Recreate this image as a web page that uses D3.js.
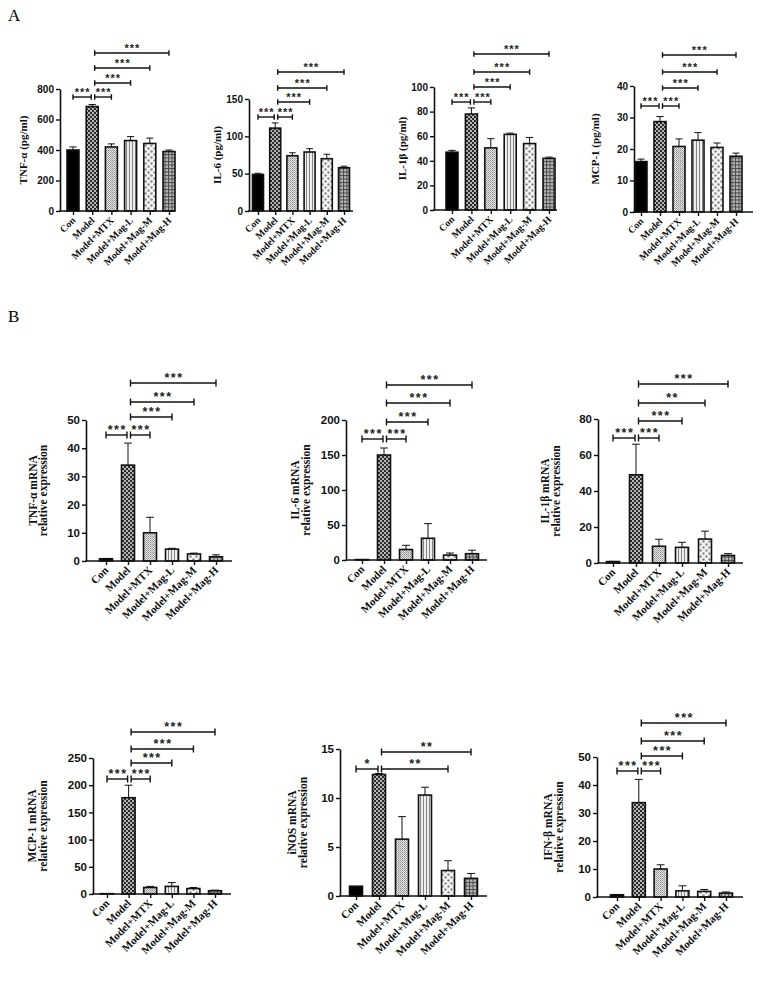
<!DOCTYPE html>
<html><head><meta charset="utf-8">
<script src="https://cdn.jsdelivr.net/npm/d3@7"></script>
<style>body{margin:0;background:#fff}</style>
</head><body>
<svg id="c" width="779" height="990" xmlns="http://www.w3.org/2000/svg"></svg>
<script>
// ---------- DATA ----------
const categories = ["Con", "Model", "Model+MTX", "Model+Mag-L", "Model+Mag-M", "Model+Mag-H"];

// Panel A (protein, pg/ml): means and upper SD
const tnfProtein = [400, 685, 420, 462, 443, 390];
const tnfProteinErr = [20, 13, 20, 26, 35, 10];
const il6Protein = [49, 111, 74, 79, 70, 58];
const il6ProteinErr = [1.5, 7, 4, 4.5, 6, 2];
const il1bProtein = [47, 78, 50.5, 61.5, 54, 42];
const il1bProteinErr = [1.5, 5, 7.5, 1, 5, 1];
const mcp1Protein = [16, 28.7, 20.8, 22.8, 20.5, 17.7];
const mcp1ProteinErr = [0.8, 1.6, 2.4, 2.4, 1.4, 1];

// Panel B (mRNA relative expression)
const tnfMrna = [0.8, 34, 10, 4.2, 2.5, 1.5];
const tnfMrnaErr = [0.1, 7.8, 5.5, 0.3, 0.3, 0.7];
const il6Mrna = [0.6, 150, 15, 31, 7, 9];
const il6MrnaErr = [0.1, 10, 6, 21, 3, 5];
const il1bMrna = [0.8, 49, 9.3, 8.7, 13.3, 4.2];
const il1bMrnaErr = [0.1, 17, 3.9, 2.8, 4.4, 1];
const mcp1Mrna = [0.6, 177, 12, 14, 10, 6];
const mcp1MrnaErr = [0.1, 23, 2, 7, 2, 1];
const inosMrna = [1.0, 12.4, 5.8, 10.3, 2.6, 1.8];
const inosMrnaErr = [0, 0.1, 2.3, 0.8, 1.0, 0.5];
const ifnbMrna = [0.8, 33.7, 10, 2.2, 2, 1.4];
const ifnbMrnaErr = [0.1, 8.3, 1.5, 1.8, 0.7, 0.4];

// tick labels
const ticksTnfProtein = [0, 200, 400, 600, 800];
const ticksIl6Protein = [0, 50, 100, 150];
const ticksIl1bProtein = [0, 20, 40, 60, 80, 100];
const ticksMcp1Protein = [0, 10, 20, 30, 40];
const ticksTnfMrna = [0, 10, 20, 30, 40, 50];
const ticksIl6Mrna = [0, 50, 100, 150, 200];
const ticksIl1bMrna = [0, 20, 40, 60, 80];
const ticksMcp1Mrna = [0, 50, 100, 150, 200, 250];
const ticksInosMrna = [0, 5, 10, 15];
const ticksIfnbMrna = [0, 10, 20, 30, 40, 50];

// significance: [fromIndex, toIndex, label, level]
const sigStandard = [[0, 1, "***", 0], [1, 2, "***", 0], [1, 3, "***", 1], [1, 4, "***", 2], [1, 5, "***", 3]];
const sigIl1bMrna = [[0, 1, "***", 0], [1, 2, "***", 0], [1, 3, "***", 1], [1, 4, "**", 2], [1, 5, "***", 3]];
const sigInosMrna = [[0, 1, "*", 0], [1, 4, "**", 0], [1, 5, "**", 1]];

// ---------- LAYOUT ----------
const A = {tick: 10, xl: 9.8, yl: 11, cap: 2.8, star: 11, ls: 1, barW: 12};
const B = {tick: 11.5, xl: 11, yl: 11.5, cap: 3.5, star: 12.5, ls: 1.5, barW: 13};
const charts = [
  {st: A, vals: tnfProtein, errs: tnfProteinErr, ticks: ticksTnfProtein, sig: sigStandard,
   ax: 60, yb: 211, yt: 89, c0: 73, c1: 169, xe: 175, levels: [97, 83, 68, 53], label: ["TNF-α (pg/ml)"], lx: [27]},
  {st: A, vals: il6Protein, errs: il6ProteinErr, ticks: ticksIl6Protein, sig: sigStandard,
   ax: 249, yb: 211, yt: 99, c0: 258, c1: 344, xe: 353, levels: [117, 102, 88, 72], label: ["IL-6 (pg/ml)"], lx: [221], barW: 11},
  {st: A, vals: il1bProtein, errs: il1bProteinErr, ticks: ticksIl1bProtein, sig: sigStandard,
   ax: 434, yb: 210, yt: 87, c0: 452, c1: 549, xe: 557, levels: [102, 87, 72, 54], label: ["IL-1β (pg/ml)"], lx: [406]},
  {st: A, vals: mcp1Protein, errs: mcp1ProteinErr, ticks: ticksMcp1Protein, sig: sigStandard,
   ax: 634, yb: 212, yt: 86, c0: 641, c1: 736, xe: 753, levels: [106, 88, 72, 55], label: ["MCP-1 (pg/ml)"], lx: [599]},
  {st: B, vals: tnfMrna, errs: tnfMrnaErr, ticks: ticksTnfMrna, sig: sigStandard,
   ax: 86, yb: 561, yt: 420, c0: 106, c1: 216, xe: 232, levels: [435, 417, 402, 383], label: ["TNF-α mRNA", "relative expression"], lx: [36.5, 47]},
  {st: B, vals: il6Mrna, errs: il6MrnaErr, ticks: ticksIl6Mrna, sig: sigStandard,
   ax: 346, yb: 560, yt: 420, c0: 362, c1: 472, xe: 487, levels: [439, 422, 403, 385], label: ["IL-6 mRNA", "relative expression"], lx: [299, 309.5]},
  {st: B, vals: il1bMrna, errs: il1bMrnaErr, ticks: ticksIl1bMrna, sig: sigIl1bMrna,
   ax: 598, yb: 563, yt: 419, c0: 613, c1: 728, xe: 743, levels: [438, 421, 403, 384], label: ["IL-1β mRNA", "relative expression"], lx: [549, 559.5]},
  {st: B, vals: mcp1Mrna, errs: mcp1MrnaErr, ticks: ticksMcp1Mrna, sig: sigStandard,
   ax: 93, yb: 894, yt: 758, c0: 107, c1: 215, xe: 231, levels: [779, 763, 749, 732], label: ["MCP-1 mRNA", "relative expression"], lx: [36, 46.5]},
  {st: B, vals: inosMrna, errs: inosMrnaErr, ticks: ticksInosMrna, sig: sigInosMrna,
   ax: 340, yb: 896, yt: 749, c0: 356, c1: 471, xe: 487, levels: [769, 752], label: ["iNOS mRNA", "relative expression"], lx: [296, 306.5]},
  {st: B, vals: ifnbMrna, errs: ifnbMrnaErr, ticks: ticksIfnbMrna, sig: sigStandard,
   ax: 597, yb: 897, yt: 757, c0: 617, c1: 726, xe: 743, levels: [771, 756, 741, 723], label: ["IFN-β mRNA", "relative expression"], lx: [552, 562.5]}
];

const svg = d3.select("#c");
const defs = svg.append("defs");

// patterns
function pat(id, w, h, build) {
  const p = defs.append("pattern").attr("id", id).attr("width", w).attr("height", h)
    .attr("patternUnits", "userSpaceOnUse");
  build(p);
}
pat("p-checker", 4, 4, p => {
  p.append("rect").attr("width", 4).attr("height", 4).attr("fill", "#2a2a2a");
  p.append("rect").attr("width", 2).attr("height", 2).attr("fill", "#b5b5b5");
  p.append("rect").attr("x", 2).attr("y", 2).attr("width", 2).attr("height", 2).attr("fill", "#b5b5b5");
});
pat("p-stipple", 2, 2, p => {
  p.append("rect").attr("width", 2).attr("height", 2).attr("fill", "#e6e6e6");
  p.append("rect").attr("width", 1).attr("height", 1).attr("fill", "#8c8c8c");
  p.append("rect").attr("x", 1).attr("y", 1).attr("width", 1).attr("height", 1).attr("fill", "#aaaaaa");
});
pat("p-vstripe", 3, 3, p => {
  p.append("rect").attr("width", 3).attr("height", 3).attr("fill", "#eeeeee");
  p.append("rect").attr("width", 1).attr("height", 3).attr("fill", "#858585");
});
pat("p-dots", 6, 6, p => {
  p.append("rect").attr("width", 6).attr("height", 6).attr("fill", "#f3f3f3");
  p.append("circle").attr("cx", 1.5).attr("cy", 1.5).attr("r", 1.2).attr("fill", "#8a8a8a");
  p.append("circle").attr("cx", 4.5).attr("cy", 4.5).attr("r", 1.2).attr("fill", "#8a8a8a");
});
pat("p-grid", 3.5, 3.5, p => {
  p.append("rect").attr("width", 3.5).attr("height", 3.5).attr("fill", "#b8b8b8");
  p.append("rect").attr("width", 3.5).attr("height", 1).attr("fill", "#4a4a4a");
  p.append("rect").attr("width", 1).attr("height", 3.5).attr("fill", "#4a4a4a");
});
const fills = ["#000", "url(#p-checker)", "url(#p-stipple)", "url(#p-vstripe)", "url(#p-dots)", "url(#p-grid)"];

// panel letters
svg.append("text").attr("x", 8).attr("y", 21).text("A")
  .attr("font-family", "'Liberation Serif','Times New Roman',serif").attr("font-size", 17);
svg.append("text").attr("x", 8).attr("y", 322).text("B")
  .attr("font-family", "'Liberation Serif','Times New Roman',serif").attr("font-size", 17);

const sansB = "'Liberation Sans',Arial,sans-serif";
const serif = "'Liberation Serif','Times New Roman',serif";

charts.forEach(c => {
  const st = c.st;
  const barW = c.barW || st.barW;
  const g = svg.append("g");
  const y = d3.scaleLinear().domain([0, d3.max(c.ticks)]).range([c.yb, c.yt]);
  const x = d3.scalePoint().domain(categories).range([c.c0, c.c1]);

  // bars
  g.selectAll("rect.bar").data(categories).enter().append("rect")
    .attr("class", "bar")
    .attr("x", d => x(d) - barW / 2)
    .attr("width", barW)
    .attr("y", (d, i) => y(c.vals[i]))
    .attr("height", (d, i) => Math.max(0, c.yb - y(c.vals[i])))
    .attr("fill", (d, i) => fills[i])
    .attr("stroke", "#111").attr("stroke-width", 1.6);

  // error bars (upper)
  const eg = g.append("g").attr("stroke", "#111").attr("stroke-width", 1);
  categories.forEach((d, i) => {
    if (c.errs[i] <= 0) return;
    const cx = x(d), yTop = y(c.vals[i] + c.errs[i]), yBar = y(c.vals[i]);
    eg.append("line").attr("x1", cx).attr("x2", cx).attr("y1", yBar).attr("y2", yTop);
    eg.append("line").attr("x1", cx - barW * 0.3).attr("x2", cx + barW * 0.3).attr("y1", yTop).attr("y2", yTop);
  });

  // y axis
  const yAxis = d3.axisLeft(y).tickValues(c.ticks).tickSize(4).tickSizeOuter(0).tickPadding(2);
  const ya = g.append("g").attr("transform", `translate(${c.ax},0)`).call(yAxis);
  ya.select(".domain").attr("stroke", "#111").attr("stroke-width", 1.6);
  ya.selectAll(".tick line").attr("stroke", "#111").attr("stroke-width", 1.4);
  ya.selectAll(".tick text").attr("font-family", sansB).attr("font-weight", "bold")
    .attr("font-size", st.tick).attr("fill", "#111");

  // x axis
  g.append("line").attr("x1", c.ax - 0.8).attr("x2", c.xe).attr("y1", c.yb).attr("y2", c.yb)
    .attr("stroke", "#111").attr("stroke-width", 1.6);
  const xAxis = d3.axisBottom(x).tickSize(4).tickSizeOuter(0).tickFormat("");
  const xa = g.append("g").attr("transform", `translate(0,${c.yb})`).call(xAxis);
  xa.select(".domain").remove();
  xa.selectAll(".tick line").attr("stroke", "#111").attr("stroke-width", 1.4);

  // x labels
  g.selectAll("text.xl").data(categories).enter().append("text")
    .attr("class", "xl")
    .attr("transform", d => `translate(${x(d) + 3},${c.yb + 10}) rotate(-45)`)
    .attr("text-anchor", "end")
    .attr("font-family", serif).attr("font-weight", "bold").attr("font-size", st.xl)
    .attr("fill", "#111")
    .text(d => d);

  // y label
  const midY = (c.yb + c.yt) / 2;
  c.label.forEach((t, k) => {
    g.append("text")
      .attr("transform", `translate(${c.lx[k]},${midY}) rotate(-90)`)
      .attr("text-anchor", "middle")
      .attr("font-family", serif)
      .attr("font-weight", "bold")
      .attr("font-size", st.yl).attr("fill", "#111")
      .text(t);
  });

  // significance brackets
  const sg = g.append("g");
  c.sig.forEach(s => {
    const [a, b, lab, lev] = s;
    let xa1 = x(categories[a]), xb1 = x(categories[b]);
    if (a === 1) xa1 += 2.5;
    if (b === 1) xb1 -= 1;
    const ly = c.levels[lev];
    sg.append("line").attr("x1", xa1).attr("x2", xb1).attr("y1", ly).attr("y2", ly)
      .attr("stroke", "#111").attr("stroke-width", 1.4);
    [xa1, xb1].forEach(xx => sg.append("line").attr("x1", xx).attr("x2", xx)
      .attr("y1", ly - st.cap).attr("y2", ly + st.cap).attr("stroke", "#111").attr("stroke-width", 1.4));
    sg.append("text").attr("x", (xa1 + xb1) / 2 + st.ls / 2).attr("y", ly - 1.5)
      .attr("text-anchor", "middle").attr("font-family", sansB).attr("font-weight", "bold")
      .attr("font-size", st.star).attr("letter-spacing", st.ls).attr("fill", "#222")
      .text(lab);
  });
});
</script>
</body></html>
